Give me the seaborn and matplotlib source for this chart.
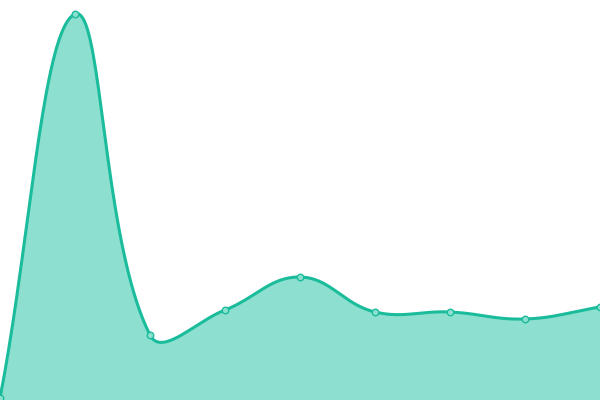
import numpy as np
import pandas as pd
import seaborn as sns
import matplotlib
matplotlib.use("Agg")
import matplotlib.pyplot as plt

# data (value = height above the bottom, chart units)
labels = ["A", "B", "C", "D", "E", "F", "G", "H", "I"]
values = [2, 386, 65, 90, 123, 88, 88, 81, 93]

LINE = "#1abc9c"
FILL = "#8de0cf"


def spline_curve(xs, ys, tension=0.4, steps=40):
    """
    Smooth curve through the points, the way Chart.js builds its
    cubic bezier control points (pixel-distance weighted).
    """
    n = len(xs)
    cp_prev = []
    cp_next = []
    for i in range(n):
        p0 = (xs[max(i - 1, 0)], ys[max(i - 1, 0)])
        p1 = (xs[i], ys[i])
        p2 = (xs[min(i + 1, n - 1)], ys[min(i + 1, n - 1)])
        d01 = np.hypot(p1[0] - p0[0], p1[1] - p0[1])
        d12 = np.hypot(p2[0] - p1[0], p2[1] - p1[1])
        tot = d01 + d12
        fa = tension * d01 / tot if tot else 0
        fb = tension * d12 / tot if tot else 0
        dx, dy = p2[0] - p0[0], p2[1] - p0[1]
        cp_prev.append((p1[0] - fa * dx, min(max(p1[1] - fa * dy, 0), 400)))
        cp_next.append((p1[0] + fb * dx, min(max(p1[1] + fb * dy, 0), 400)))
    cx, cy = [], []
    t = np.linspace(0, 1, steps)
    for i in range(n - 1):
        a = (xs[i], ys[i])
        b = cp_next[i]
        c = cp_prev[i + 1]
        d = (xs[i + 1], ys[i + 1])
        bx = ((1 - t) ** 3 * a[0] + 3 * (1 - t) ** 2 * t * b[0]
              + 3 * (1 - t) * t ** 2 * c[0] + t ** 3 * d[0])
        by = ((1 - t) ** 3 * a[1] + 3 * (1 - t) ** 2 * t * b[1]
              + 3 * (1 - t) * t ** 2 * c[1] + t ** 3 * d[1])
        cx.extend(bx)
        cy.extend(by)
    return np.array(cx), np.array(cy)


df = pd.DataFrame({"label": labels, "value": values})
df["pos"] = np.arange(len(df))

# one x unit is 75 px, one y unit is 1 px, so build the spline in px space
step_px = 75.0
sx, sy = spline_curve(list(df["pos"] * step_px), list(df["value"]))
curve = pd.DataFrame({"x": sx / step_px, "y": sy})

fig = plt.figure(figsize=(6, 4), dpi=100)
ax = fig.add_axes([0, 0, 1, 1])

ax.fill_between(curve["x"], curve["y"], 0, color=FILL, linewidth=0)
sns.lineplot(data=curve, x="x", y="y", sort=False, color=LINE,
             linewidth=2.2, ax=ax)
sns.scatterplot(data=df, x="pos", y="value", s=22, color=FILL,
                edgecolor=LINE, linewidth=1, zorder=5, ax=ax)

ax.set_xlim(0, len(df) - 1)
ax.set_ylim(0, 400)
ax.axis("off")

plt.savefig("out.png", dpi=100)
